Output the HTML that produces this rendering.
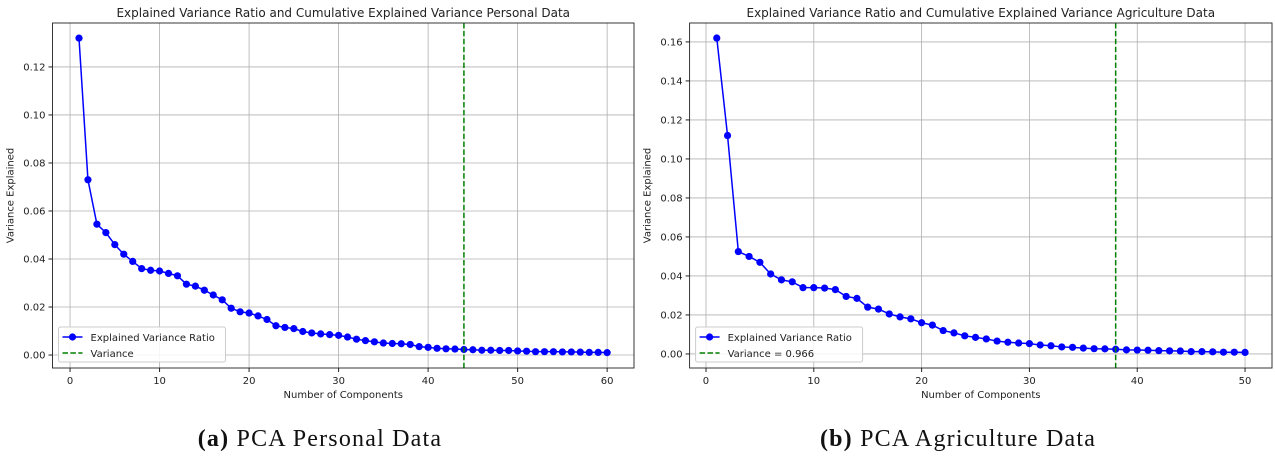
<!DOCTYPE html>
<html><head><meta charset="utf-8"><style>
body{margin:0;background:#fff;width:1275px;height:453px;overflow:hidden}
svg text{font-family:"DejaVu Sans","Liberation Sans",sans-serif;fill:#222}
.cap{font-family:"Liberation Serif",serif;font-size:24px;letter-spacing:1.2px;fill:#111}
</style></head><body>
<svg id="svg" width="1275" height="453"></svg>
<script>
const personalX = Array.from({length:60},(_,i)=>i+1);
const personalY = [0.132,0.073,0.0545,0.051,0.046,0.042,0.039,0.036,0.0353,0.035,0.034,0.033,0.0295,0.0287,0.027,0.025,0.023,0.0195,0.018,0.0175,0.0163,0.0148,0.0122,0.0115,0.011,0.0098,0.0092,0.0088,0.0085,0.0082,0.0075,0.0066,0.006,0.0055,0.005,0.0048,0.0047,0.0044,0.0035,0.0032,0.0028,0.0026,0.0025,0.0023,0.0022,0.002,0.002,0.0019,0.0019,0.0017,0.0016,0.0014,0.0014,0.0014,0.0013,0.0013,0.0012,0.0011,0.0011,0.001];
const agriX = Array.from({length:50},(_,i)=>i+1);
const agriY = [0.162,0.112,0.0525,0.050,0.047,0.041,0.038,0.037,0.034,0.034,0.0338,0.033,0.0295,0.0285,0.024,0.023,0.0205,0.019,0.018,0.016,0.0148,0.012,0.0108,0.0093,0.0085,0.0077,0.0066,0.006,0.0056,0.0053,0.0046,0.0042,0.0036,0.0034,0.003,0.0027,0.0026,0.0024,0.0021,0.002,0.0019,0.0017,0.0016,0.0015,0.0012,0.0012,0.0011,0.0009,0.0009,0.0008];
const personalXTicks = [0,10,20,30,40,50,60];
const personalYTicks = [0,0.02,0.04,0.06,0.08,0.10,0.12];
const agriXTicks = [0,10,20,30,40,50];
const agriYTicks = [0,0.02,0.04,0.06,0.08,0.10,0.12,0.14,0.16];
const personalCut = 44, agriCut = 38;

const NS="http://www.w3.org/2000/svg";
const svg=document.getElementById('svg');
function mk(tag,attrs,parent){const e=document.createElementNS(NS,tag);for(const k in attrs)e.setAttribute(k,attrs[k]);(parent||svg).appendChild(e);return e;}

function chart(cfg){
  const g=mk('g',{});
  
  
  const {L,R,T,B,xmin,xmax,ymin,ymax}=cfg;
  const sx=v=>L+(v-xmin)/(xmax-xmin)*(R-L);
  const sy=v=>B-(v-ymin)/(ymax-ymin)*(B-T);
  cfg.xt.forEach(t=>{const l=mk('line',{x1:sx(t),x2:sx(t),y1:T,y2:B,stroke:'#b0b0b0','stroke-width':0.8},g);
    
    mk('line',{x1:sx(t),x2:sx(t),y1:B,y2:B+4,stroke:'#222'},g);
    const tx=mk('text',{x:sx(t),y:B+16,'text-anchor':'middle','font-size':10},g);tx.textContent=t;
    });
  cfg.yt.forEach(t=>{const l=mk('line',{x1:L,x2:R,y1:sy(t),y2:sy(t),stroke:'#b0b0b0','stroke-width':0.8},g);
    
    mk('line',{x1:L-4,x2:L,y1:sy(t),y2:sy(t),stroke:'#222'},g);
    const tx=mk('text',{x:L-7,y:sy(t)+3.5,'text-anchor':'end','font-size':10},g);tx.textContent=t.toFixed(2);
    });
  const pts=cfg.xs.map((x,i)=>sx(x)+','+sy(cfg.ys[i])).join(' ');
  const pl=mk('polyline',{points:pts,fill:'none',stroke:'#0000ff','stroke-width':1.5},g);
  
  cfg.xs.forEach((x,i)=>{const c=mk('circle',{cx:sx(x),cy:sy(cfg.ys[i]),r:3.6,fill:'#0000ff'},g);
    });
  const vl=mk('line',{x1:sx(cfg.cut),x2:sx(cfg.cut),y1:T,y2:B,stroke:'#008000','stroke-width':1.5,'stroke-dasharray':'5.5,2.4'},g);
  
  const fr=mk('rect',{x:L,y:T,width:R-L,height:B-T,fill:'none',stroke:'#222','stroke-width':0.9},g);
  
  const ti=mk('text',{x:(L+R)/2,y:T-6,'text-anchor':'middle','font-size':12},g);ti.textContent=cfg.title;
  
  const xl=mk('text',{x:(L+R)/2,y:B+30,'text-anchor':'middle','font-size':10},g);xl.textContent='Number of Components';
  
  const yl=mk('text',{x:0,y:0,'text-anchor':'middle','font-size':10,transform:`translate(${L-39},${(T+B)/2}) rotate(-90)`},g);yl.textContent='Variance Explained';
  
  const lg=mk('g',{},g);
  
  const lx=L+6,ly=B-41;
  mk('rect',{x:lx,y:ly,width:cfg.legW,height:35,fill:'#fff','fill-opacity':0.85,stroke:'#ccc',rx:2},lg);
  mk('line',{x1:lx+4,x2:lx+24,y1:ly+10,y2:ly+10,stroke:'#0000ff','stroke-width':1.5},lg);
  mk('circle',{cx:lx+14,cy:ly+10,r:3.6,fill:'#0000ff'},lg);
  const t1=mk('text',{x:lx+32,y:ly+14,'font-size':10},lg);t1.textContent='Explained Variance Ratio';
  
  mk('line',{x1:lx+4,x2:lx+24,y1:ly+26,y2:ly+26,stroke:'#008000','stroke-width':1.5,'stroke-dasharray':'5.5,2.4'},lg);
  const t2=mk('text',{x:lx+32,y:ly+30,'font-size':10},lg);t2.textContent=cfg.legText;
  
  const cp=mk('text',{x:cfg.capX,y:446,'text-anchor':'middle',class:'cap'},g);
  cp.innerHTML='<tspan font-weight="bold">'+cfg.capA+'</tspan> '+cfg.capB;
  
}
chart({name:'personal-pca-chart',L:52.5,R:634,T:23,B:368,xmin:-1.96,xmax:63.0,ymin:-0.0054,ymax:0.1383,
  xt:personalXTicks,yt:personalYTicks,xs:personalX,ys:personalY,cut:personalCut,
  title:'Explained Variance Ratio and Cumulative Explained Variance Personal Data',legText:'Variance',legW:167,
  capX:320,capA:'(a)',capB:'PCA Personal Data'});
chart({name:'agriculture-pca-chart',L:689.6,R:1272,T:23,B:368,xmin:-1.52,xmax:52.5,ymin:-0.0072,ymax:0.1697,
  xt:agriXTicks,yt:agriYTicks,xs:agriX,ys:agriY,cut:agriCut,
  title:'Explained Variance Ratio and Cumulative Explained Variance Agriculture Data',legText:'Variance = 0.966',legW:167,
  capX:958,capA:'(b)',capB:'PCA Agriculture Data'});
</script>
</body></html>
